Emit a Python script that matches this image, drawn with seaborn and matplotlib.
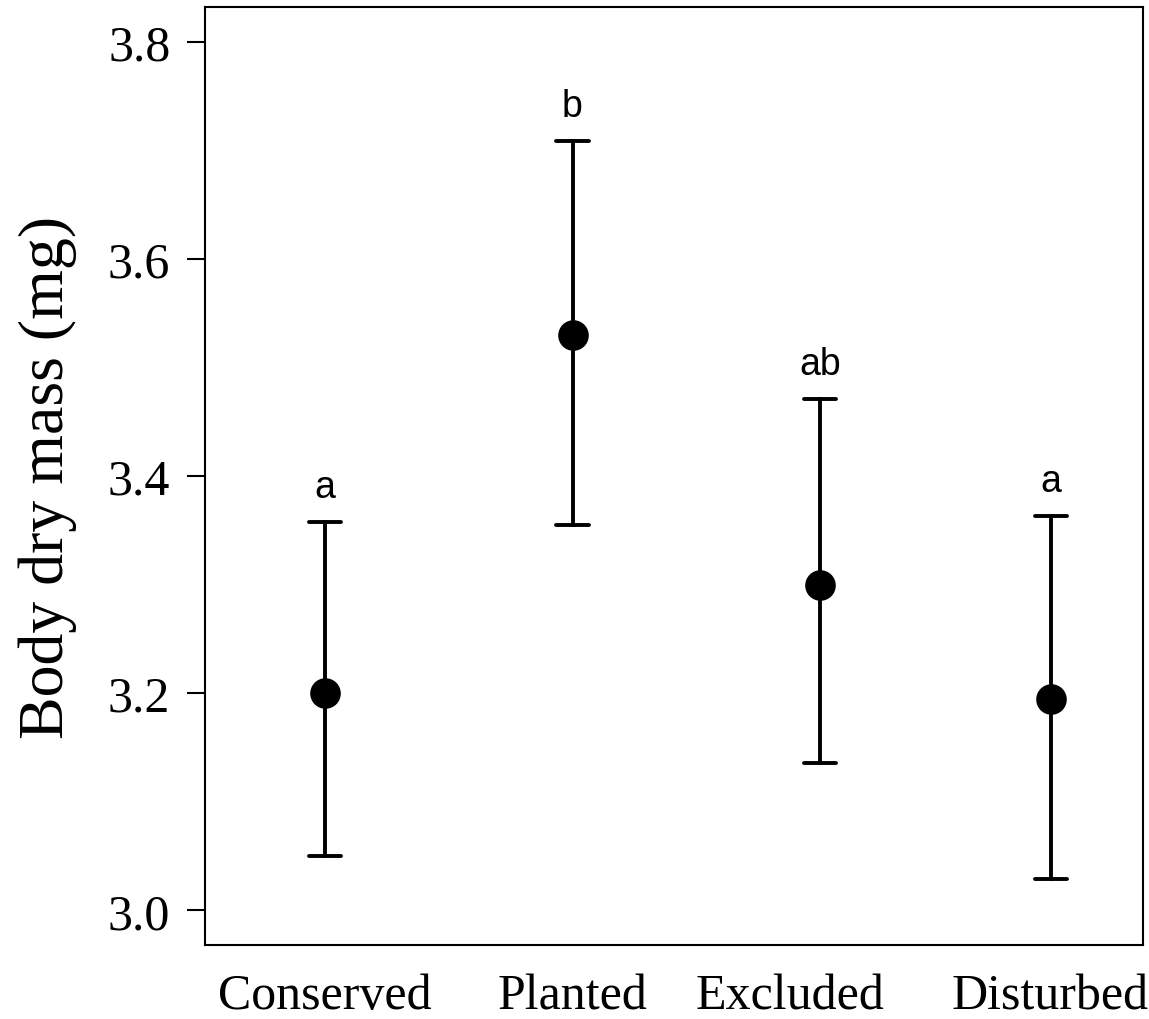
import numpy as np
import pandas as pd
import seaborn as sns
import matplotlib.pyplot as plt

# values
sites = ['Conserved', 'Planted', 'Excluded', 'Disturbed']
site_x = [1.0, 2.0, 3.0, 3.933]
label_x = [1.0, 2.0, 2.88, 3.93]
mean_mass = [3.200, 3.530, 3.300, 3.195]
lower_mass = [3.050, 3.355, 3.136, 3.029]
upper_mass = [3.358, 3.709, 3.471, 3.363]
letters = ['a', 'b', 'ab', 'a']

# long format: lower, mean, upper per site -> median gives the mean, min/max the bars
rows = []
for x, lo, m, up in zip(site_x, lower_mass, mean_mass, upper_mass):
    for v in (lo, m, up):
        rows.append({'x': x, 'mass': v})
df = pd.DataFrame(rows)

sns.set_style('ticks')
plt.rcParams['font.family'] = ['Liberation Serif', 'DejaVu Serif']
plt.rcParams['text.color'] = 'black'
plt.rcParams['axes.labelcolor'] = 'black'
plt.rcParams['xtick.color'] = 'black'
plt.rcParams['ytick.color'] = 'black'

fig = plt.figure(figsize=(11.49, 10.2), dpi=100)
ax = fig.add_axes([0.1784, 0.0725, 0.8164, 0.9197])

sns.pointplot(data=df, x='x', y='mass', native_scale=True,
              estimator='median', errorbar=lambda v: (v.min(), v.max()),
              linestyle='none', color='black', markersize=20,
              capsize=0.14, err_kws={'linewidth': 2.8}, ax=ax)

for x, up, lab in zip(site_x, upper_mass, letters):
    ax.text(x, up + 0.023, lab, ha='center', va='baseline', color='black',
            fontsize=27, family=['Liberation Sans', 'DejaVu Sans'])

ax.set_xlim(0.515, 4.305)
ax.set_ylim(2.968, 3.832)
ax.set_yticks([3.0, 3.2, 3.4, 3.6, 3.8])
ax.set_yticklabels(['3.0', '3.2', '3.4', '3.6', '3.8'])
ax.set_xticks(label_x)
ax.set_xticklabels(sites)
ax.tick_params(axis='x', length=0, pad=20, labelsize=36)
ax.tick_params(axis='y', length=13, width=1.5, pad=12, labelsize=36)
ax.set_xlabel('')
ax.set_ylabel('Body dry mass (mg)', fontsize=46, labelpad=22)
for s in ax.spines.values():
    s.set_visible(True)
    s.set_linewidth(1.5)
    s.set_color('black')

fig.savefig('out.png', dpi=100)
